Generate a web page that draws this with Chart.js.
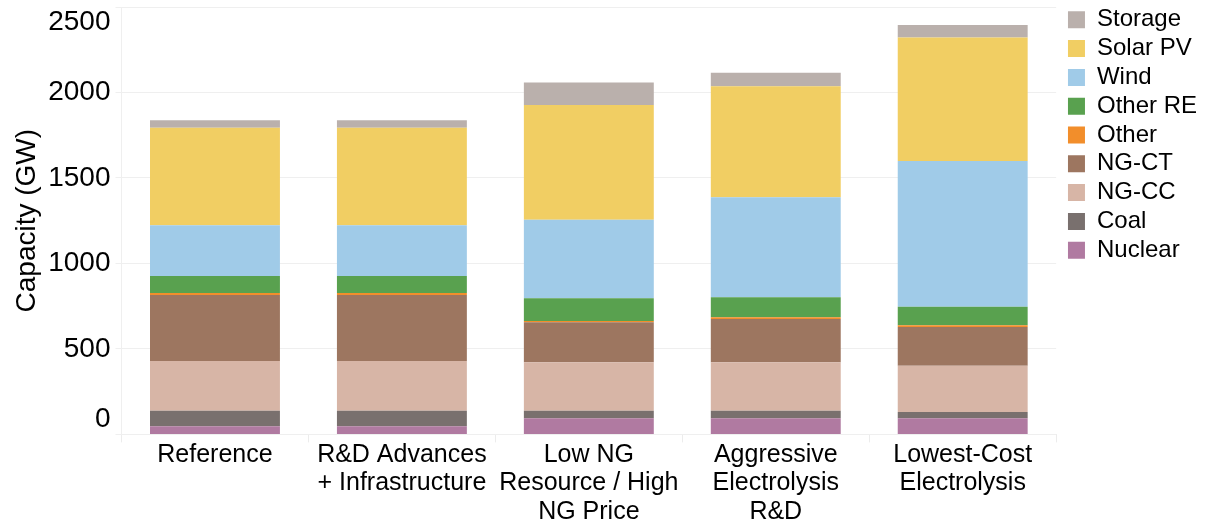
<!DOCTYPE html>
<html>
<head>
<meta charset="utf-8">
<script src="https://cdn.jsdelivr.net/npm/chart.js@4.4.1/dist/chart.umd.min.js"></script>
<style>
  html, body { margin: 0; padding: 0; background: #fff; }
  #wrap { width: 1207px; height: 525px; }
</style>
</head>
<body>
<div id="wrap"><canvas id="grafico" width="1207" height="525"></canvas></div>
<script>
// categorias e valores (GW)
const cenarios = [
    'Reference',
    ['R&D Advances', '+ Infrastructure'],
    ['Low NG', 'Resource / High', 'NG Price'],
    ['Aggressive', 'Electrolysis', 'R&D'],
    ['Lowest-Cost', 'Electrolysis']
];
const nuclear = [48, 48, 94, 94, 94];
const carvao  = [90, 90, 45, 45, 37];
const ngCC    = [292, 292, 283, 283, 271];
const ngCT    = [385, 385, 234, 253, 226];
const outro   = [12, 12, 8, 10, 10];
const outroRE = [100, 100, 133, 117, 109];
const eolica  = [297, 297, 458, 585, 852];
const solar   = [569, 569, 672, 650, 723];
const armazenamento = [45, 45, 131, 78, 72];
const ticksY = [0, 500, 1000, 1500, 2000, 2500];

Chart.defaults.font.family = "'Liberation Sans', Arial, sans-serif";
Chart.defaults.color = '#000';

function serie(label, data, cor) {
    return { label: label, data: data, backgroundColor: cor, borderWidth: 0 };
}

new Chart(document.getElementById('grafico'), {
    type: 'bar',
    data: {
        labels: cenarios,
        datasets: [
            serie('Nuclear', nuclear, '#B07AA1'),
            serie('Coal', carvao, '#79706E'),
            serie('NG-CC', ngCC, '#D7B5A6'),
            serie('NG-CT', ngCT, '#9D7660'),
            serie('Other', outro, '#F28E2B'),
            serie('Other RE', outroRE, '#59A14F'),
            serie('Wind', eolica, '#A0CBE8'),
            serie('Solar PV', solar, '#F1CE63'),
            serie('Storage', armazenamento, '#BAB0AC')
        ]
    },
    options: {
        responsive: false,
        animation: false,
        layout: { padding: { top: 3, right: 0, bottom: 0, left: 0 } },
        datasets: { bar: { categoryPercentage: 1, barPercentage: 0.695 } },
        plugins: {
            tooltip: { enabled: false },
            legend: {
                position: 'right',
                align: 'start',
                reverse: true,
                labels: {
                    boxWidth: 17,
                    boxHeight: 17,
                    padding: 4.8,
                    font: { size: 24 },
                    color: '#000'
                }
            }
        },
        scales: {
            x: {
                stacked: true,
                grid: { display: true, drawOnChartArea: false, drawTicks: true, tickLength: 8, color: '#ececec', offset: true },
                border: { display: false },
                ticks: { font: { size: 25, lineHeight: 1.14 }, padding: -2, maxRotation: 0, autoSkip: false, color: '#000' },
                afterFit: function(escala) { escala.height = 90.6; }
            },
            y: {
                stacked: true,
                min: 0,
                max: 2500,
                afterBuildTicks: function(escala) {
                    escala.ticks = ticksY.map(v => ({ value: v }));
                },
                grid: { color: '#efefef', drawTicks: true, tickLength: 6 },
                border: { display: true, color: '#efefef' },
                ticks: {
                    font: { size: 28, lineHeight: 1.1 },
                    padding: 5,
                    color: '#000',
                    // rótulos das pontas puxados para dentro, como no original
                    callback: function(v) {
                        if (v === 0) return ['0', ''];
                        if (v === 2500) return ['', '2500'];
                        return String(v);
                    }
                },
                title: {
                    display: true,
                    text: 'Capacity (GW)',
                    font: { size: 28, lineHeight: 1.2 },
                    color: '#000',
                    padding: { top: 10, bottom: 0 }
                },
                afterFit: function(escala) {
                    escala.width = 121.5;
                    escala.paddingTop = 7;
                    escala.paddingBottom = 0;
                }
            },
            // eixo vazio só para afastar a legenda da área do gráfico
            folga: {
                type: 'linear',
                position: 'right',
                display: true,
                grid: { display: false },
                border: { display: false },
                ticks: { display: false },
                afterFit: function(escala) { escala.width = 7; }
            }
        }
    }
});
</script>
</body>
</html>
